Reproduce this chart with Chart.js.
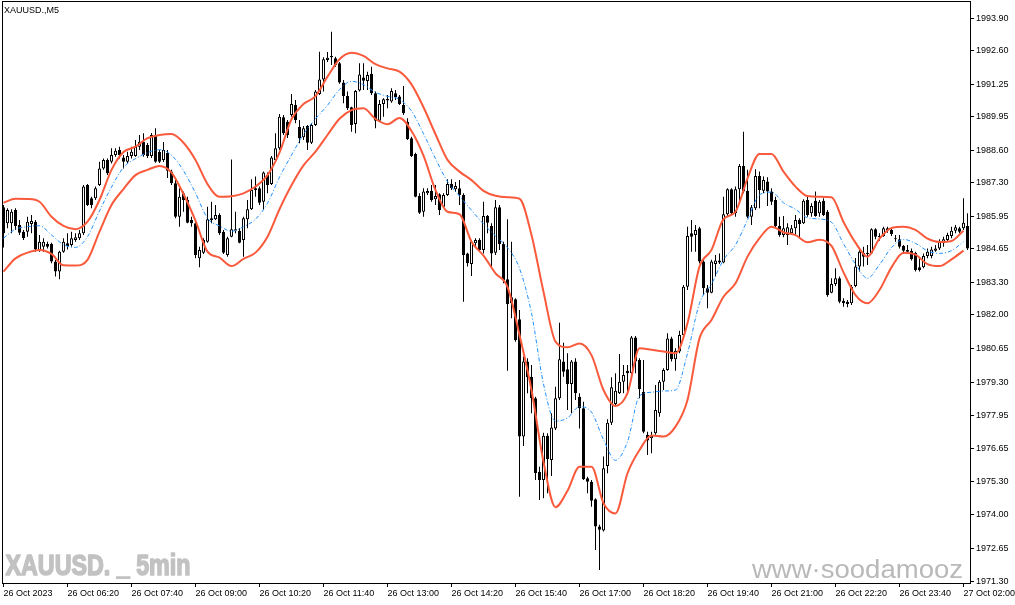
<!DOCTYPE html>
<html><head><meta charset="utf-8">
<script src="https://cdn.jsdelivr.net/npm/chart.js@4.4.0/dist/chart.umd.min.js"></script>
<style>html,body{margin:0;padding:0;background:#fff;overflow:hidden}canvas{display:block}</style>
</head><body>
<canvas id="c" width="1015" height="605"></canvas>
<script>
const timeLabels = ['26 Oct 2023','26 Oct 06:20','26 Oct 07:40','26 Oct 09:00','26 Oct 10:20','26 Oct 11:40','26 Oct 13:00','26 Oct 14:20','26 Oct 15:40','26 Oct 17:00','26 Oct 18:20','26 Oct 19:40','26 Oct 21:00','26 Oct 22:20','26 Oct 23:40','27 Oct 02:00'];
const labelBars = [0,16,32,48,64,80,96,112,128,144,160,176,192,208,224,240];
const priceTicks = [1993.90,1992.60,1991.25,1989.95,1988.60,1987.30,1985.95,1984.65,1983.30,1982.00,1980.65,1979.30,1977.95,1976.65,1975.30,1974.00,1972.65,1971.30];

const openPrices = [
1986.32,1985.68,1985.68,1986.21,1985.61,1985.34,1985.34,1985.65,1985.74,1984.61,
1984.74,1984.85,1984.85,1984.14,1983.74,1984.54,1984.88,1984.81,1985.01,1985.08,
1985.28,1987.21,1986.68,1986.68,1987.21,1987.88,1988.22,1988.15,1988.42,1988.62,
1988.32,1988.15,1988.38,1988.38,1988.75,1988.95,1988.82,1988.38,1989.22,1988.55,
1988.22,1988.50,1987.75,1987.28,1985.94,1986.88,1986.61,1985.81,1985.68,1984.27,
1984.50,1984.94,1985.81,1985.84,1986.01,1985.34,1984.41,1985.14,1985.44,1985.38,
1985.01,1985.84,1986.24,1987.01,1987.08,1986.54,1987.61,1987.25,1988.22,1988.69,
1989.93,1989.75,1990.02,1990.42,1989.55,1989.13,1989.58,1988.91,1989.62,1990.86,
1991.45,1992.23,1992.39,1992.30,1992.10,1991.32,1990.78,1990.33,1989.66,1991.00,
1991.53,1991.39,1991.67,1990.89,1989.79,1990.46,1990.60,1990.56,1990.89,1990.76,
1990.42,1989.75,1989.09,1988.46,1986.77,1986.14,1986.88,1986.98,1986.64,1986.84,
1986.34,1986.81,1987.25,1987.04,1987.08,1986.81,1984.47,1984.04,1984.88,1985.01,
1984.61,1985.97,1985.57,1984.50,1986.32,1984.85,1983.43,1982.47,1982.63,1981.83,
1977.12,1980.13,1979.52,1978.66,1975.71,1975.38,1977.15,1976.18,1977.45,1978.66,
1980.13,1979.82,1979.23,1980.13,1978.72,1978.26,1975.45,1975.31,1974.61,1973.51,
1973.35,1975.94,1977.68,1978.43,1978.86,1979.32,1979.76,1979.66,1981.10,1980.19,
1978.92,1977.19,1977.05,1977.25,1978.06,1979.32,1979.79,1981.06,1980.22,1980.53,
1981.20,1983.13,1985.28,1985.21,1985.48,1984.14,1983.07,1982.89,1984.04,1984.10,
1984.10,1986.04,1987.04,1986.08,1987.04,1987.98,1986.98,1985.94,1986.28,1987.57,
1986.98,1987.35,1986.95,1986.61,1985.57,1985.21,1985.21,1985.28,1985.48,1985.81,
1985.68,1986.61,1986.08,1986.58,1986.08,1986.58,1986.14,1982.89,1983.24,1983.47,
1982.57,1982.53,1982.47,1983.16,1983.94,1984.50,1984.45,1984.47,1985.44,1985.12,
1985.17,1985.48,1985.41,1985.08,1985.04,1984.77,1984.61,1984.58,1984.50,1983.91,
1983.91,1984.37,1984.37,1984.58,1984.67,1984.88,1985.01,1985.17,1985.38,1985.48,
1985.48,1985.57];

const highPrices = [
1986.41,1986.28,1986.24,1986.28,1985.81,1985.41,1985.94,1986.01,1985.81,1985.21,
1985.08,1984.94,1984.90,1984.21,1984.58,1985.08,1985.28,1985.34,1985.28,1985.41,
1987.21,1987.25,1986.74,1987.15,1988.15,1988.28,1988.28,1988.69,1988.69,1988.75,
1988.42,1988.55,1988.75,1989.02,1989.22,1989.29,1988.90,1989.30,1989.49,1988.62,
1988.94,1988.62,1987.82,1987.41,1987.08,1986.95,1986.74,1985.94,1985.81,1984.74,
1985.08,1986.34,1986.54,1986.41,1986.08,1985.41,1985.14,1988.24,1986.14,1985.48,
1985.94,1986.61,1987.44,1987.55,1987.15,1987.75,1987.71,1988.38,1989.29,1990.06,
1990.02,1989.82,1990.86,1990.62,1989.82,1989.58,1989.62,1989.69,1991.02,1992.56,
1992.34,1992.55,1993.36,1992.36,1992.15,1991.43,1990.96,1990.35,1991.02,1992.10,
1992.10,1991.76,1991.96,1990.96,1990.62,1990.69,1990.82,1991.09,1991.02,1990.82,
1991.18,1989.89,1989.15,1988.51,1986.88,1987.08,1987.08,1987.21,1987.21,1986.88,
1986.88,1987.44,1987.44,1987.33,1987.41,1986.88,1984.50,1985.01,1985.08,1985.08,
1986.54,1986.01,1985.68,1986.61,1986.41,1984.94,1985.84,1984.94,1982.67,1982.20,
1980.33,1980.26,1979.99,1978.72,1975.91,1977.28,1977.25,1978.06,1979.12,1981.69,
1980.89,1980.46,1980.19,1980.26,1978.86,1978.52,1975.51,1975.38,1974.65,1973.58,
1976.32,1977.82,1979.50,1979.66,1980.43,1979.99,1979.99,1981.16,1981.16,1980.26,
1980.19,1977.32,1977.32,1979.19,1979.39,1979.86,1981.27,1981.13,1980.66,1981.37,
1983.20,1985.54,1985.81,1985.61,1985.54,1984.21,1983.20,1984.21,1984.41,1984.47,
1986.74,1987.08,1987.08,1987.15,1988.06,1989.35,1987.82,1986.41,1987.84,1987.75,
1987.55,1987.52,1987.08,1986.74,1985.94,1985.97,1985.68,1985.61,1986.01,1985.88,
1986.64,1986.74,1986.48,1986.95,1986.61,1986.68,1986.21,1983.47,1983.87,1983.54,
1982.67,1982.60,1983.20,1984.28,1984.61,1984.74,1984.81,1985.48,1985.48,1985.28,
1985.54,1985.54,1985.48,1985.21,1985.21,1984.81,1984.81,1984.67,1984.54,1984.27,
1984.47,1984.67,1984.74,1984.81,1985.04,1985.14,1985.30,1985.54,1985.61,1985.54,
1986.68,1986.08];

const lowPrices = [
1984.71,1985.48,1985.28,1985.41,1985.21,1985.01,1985.14,1985.28,1984.54,1984.54,
1984.54,1984.67,1984.07,1983.54,1983.43,1984.50,1984.63,1984.74,1984.94,1985.01,
1985.21,1986.37,1986.28,1986.61,1987.17,1987.82,1987.61,1988.08,1988.35,1988.28,
1987.88,1988.08,1988.28,1988.35,1988.62,1988.35,1988.30,1988.30,1988.11,1988.10,
1988.14,1987.49,1987.21,1985.88,1985.54,1986.14,1985.68,1985.54,1984.27,1983.91,
1984.45,1984.90,1985.68,1985.81,1985.21,1984.45,1984.34,1985.12,1985.28,1984.88,
1984.34,1985.48,1986.21,1986.74,1986.41,1986.21,1986.88,1987.21,1988.19,1988.62,
1989.22,1989.10,1989.95,1989.69,1988.89,1989.02,1988.62,1988.86,1989.58,1990.82,
1990.96,1992.15,1992.03,1991.96,1991.27,1990.49,1990.22,1989.35,1989.29,1990.96,
1991.02,1991.02,1990.82,1989.49,1989.75,1989.95,1990.29,1990.51,1990.62,1990.42,
1990.02,1989.02,1988.34,1986.72,1986.05,1985.94,1986.81,1986.54,1986.41,1986.01,
1986.29,1986.77,1987.01,1986.93,1986.41,1982.53,1983.94,1983.56,1984.74,1984.54,
1984.47,1985.28,1983.87,1984.41,1984.61,1983.27,1979.76,1981.87,1980.93,1974.71,
1976.74,1978.86,1978.06,1975.38,1974.58,1974.65,1974.85,1975.54,1977.39,1978.59,
1979.52,1978.19,1978.06,1978.59,1977.45,1975.38,1974.85,1974.31,1972.57,1971.77,
1973.31,1975.65,1977.59,1978.32,1978.83,1978.86,1978.79,1979.59,1979.66,1978.66,
1977.25,1976.38,1976.45,1977.19,1977.92,1978.99,1979.76,1980.13,1979.76,1980.46,
1981.13,1983.00,1984.54,1984.54,1984.07,1982.80,1982.27,1982.87,1983.54,1984.04,
1984.07,1985.94,1986.01,1985.94,1986.48,1986.88,1985.88,1985.61,1986.21,1986.28,
1986.88,1986.37,1986.41,1985.48,1985.14,1985.12,1984.81,1985.21,1985.21,1985.08,
1985.65,1985.94,1985.94,1985.94,1985.94,1985.97,1982.73,1982.87,1983.16,1982.47,
1982.33,1982.31,1982.40,1983.11,1983.74,1983.94,1984.00,1984.45,1985.04,1984.98,
1985.14,1985.30,1985.17,1984.94,1984.67,1984.45,1984.45,1984.18,1983.74,1983.74,
1983.87,1984.27,1984.27,1984.54,1984.61,1984.74,1984.94,1985.08,1985.28,1985.28,
1985.41,1984.61];

const closePrices = [
1985.28,1986.21,1986.14,1985.57,1985.30,1985.08,1985.74,1985.77,1984.63,1984.94,
1984.94,1984.74,1984.14,1983.74,1984.54,1984.94,1984.77,1985.08,1985.12,1985.28,
1987.15,1986.41,1986.41,1987.08,1987.88,1988.22,1987.68,1988.42,1988.59,1988.42,
1988.15,1988.38,1988.55,1988.75,1988.95,1988.42,1988.38,1989.22,1988.15,1988.15,
1988.62,1987.78,1987.28,1985.94,1986.74,1986.61,1985.70,1985.68,1984.41,1984.61,
1985.01,1985.84,1985.88,1986.01,1985.28,1984.50,1985.08,1985.44,1985.38,1984.90,
1985.88,1986.24,1987.01,1987.08,1986.50,1987.71,1987.21,1988.32,1988.69,1989.95,
1989.29,1989.22,1990.46,1989.82,1989.09,1989.49,1988.91,1989.62,1990.96,1991.45,
1992.26,1992.32,1992.34,1992.03,1991.32,1990.78,1990.29,1989.62,1990.98,1991.65,
1991.40,1991.63,1990.89,1989.79,1990.46,1990.65,1990.66,1990.98,1990.73,1990.46,
1990.09,1989.05,1988.38,1986.74,1986.10,1986.95,1986.97,1986.61,1986.77,1986.21,
1986.81,1987.25,1987.08,1987.17,1986.81,1984.41,1984.07,1984.94,1985.01,1984.61,
1985.97,1985.70,1984.47,1986.32,1984.85,1983.40,1982.44,1982.71,1981.00,1977.12,
1980.13,1979.50,1978.66,1975.65,1975.38,1977.15,1976.21,1977.49,1978.66,1980.22,
1979.72,1979.23,1980.13,1978.86,1978.26,1975.41,1975.31,1974.55,1973.51,1973.38,
1975.85,1977.68,1979.10,1978.96,1979.32,1979.59,1979.66,1981.10,1980.13,1979.02,
1977.32,1976.96,1977.15,1978.19,1979.32,1979.79,1981.06,1980.22,1980.56,1981.20,
1983.13,1985.17,1985.14,1985.41,1984.14,1983.07,1982.89,1984.14,1984.18,1984.18,
1986.04,1987.04,1986.08,1987.04,1987.98,1986.95,1985.94,1986.32,1987.57,1987.01,
1987.41,1986.95,1986.54,1985.57,1985.21,1985.48,1985.52,1985.48,1985.81,1985.65,
1986.58,1986.01,1986.37,1985.97,1986.54,1986.01,1982.80,1983.24,1983.47,1982.53,
1982.47,1982.44,1983.13,1983.94,1984.54,1984.34,1984.50,1985.44,1985.14,1985.17,
1985.48,1985.41,1985.25,1985.04,1984.74,1984.58,1984.54,1984.23,1983.80,1983.80,
1984.37,1984.54,1984.63,1984.67,1984.94,1985.04,1985.21,1985.38,1985.52,1985.34,
1985.70,1984.67];

// band readings every 3rd bar (bar 0, 3, 6, ... 240)
const bandStep = 3;
const upperBand = [
1986.50,1986.66,1986.65,1986.54,1985.94,1985.57,1985.44,1985.74,1986.61,1987.82,
1988.54,1988.75,1989.09,1989.22,1989.26,1988.91,1988.22,1987.25,1986.74,1986.76,
1986.88,1987.15,1987.61,1988.51,1989.85,1990.46,1990.78,1991.56,1992.26,1992.52,
1992.39,1992.06,1991.89,1991.76,1991.25,1990.33,1989.25,1988.22,1987.75,1987.41,
1986.98,1986.78,1986.72,1986.66,1985.21,1982.93,1980.93,1980.70,1980.86,1980.39,
1978.99,1978.35,1978.86,1980.66,1980.60,1980.53,1980.46,1981.67,1983.94,1984.61,
1985.84,1986.14,1987.48,1988.46,1988.46,1987.75,1987.15,1986.77,1986.74,1986.72,
1985.73,1984.90,1984.34,1985.06,1985.49,1985.54,1985.41,1985.06,1984.93,1984.97,
1985.38];
const middleBand = [
1985.08,1985.44,1985.54,1985.58,1985.21,1984.82,1984.71,1985.14,1986.17,1987.13,
1987.92,1988.27,1988.51,1988.63,1988.41,1987.79,1986.89,1985.88,1985.57,1985.36,
1985.54,1985.84,1986.48,1987.53,1988.41,1989.25,1989.87,1990.41,1991.04,1991.37,
1991.24,1990.93,1990.77,1990.65,1990.18,1989.27,1988.27,1987.35,1986.77,1986.20,
1985.65,1985.17,1984.70,1983.87,1982.07,1979.23,1977.74,1977.87,1978.32,1978.10,
1977.00,1976.17,1976.92,1978.75,1978.90,1978.95,1978.99,1980.46,1982.47,1983.24,
1984.21,1984.81,1985.81,1986.82,1986.93,1986.50,1986.24,1985.90,1985.85,1985.72,
1984.86,1984.04,1983.47,1984.02,1984.70,1985.03,1984.87,1984.57,1984.47,1984.58,
1984.94];
const lowerBand = [
1983.74,1984.27,1984.50,1984.61,1984.45,1983.99,1983.98,1984.21,1985.34,1986.41,
1987.05,1987.61,1987.82,1987.98,1987.71,1986.85,1985.78,1984.54,1984.30,1983.96,
1984.25,1984.50,1985.14,1986.24,1987.20,1988.00,1988.55,1989.22,1989.87,1990.22,
1990.29,1989.86,1989.65,1989.90,1989.38,1988.39,1987.01,1986.14,1986.04,1984.94,
1984.38,1983.67,1983.13,1981.20,1978.99,1976.11,1974.29,1974.95,1975.91,1975.91,
1974.45,1974.04,1975.65,1976.58,1977.16,1977.12,1977.52,1978.59,1981.06,1981.80,
1982.73,1983.27,1984.34,1985.08,1985.54,1985.32,1985.20,1984.92,1985.02,1984.77,
1983.71,1982.80,1982.47,1983.00,1983.91,1984.50,1984.42,1984.04,1983.96,1984.23,
1984.58];

const barIdx = openPrices.map((_, i) => i);
const wickData = barIdx.map(i => ({x: i, y: [lowPrices[i], highPrices[i]]}));
const bodyData = barIdx.map(i => ({x: i, y: [openPrices[i], closePrices[i]]}));
const bodyColors = barIdx.map(i => closePrices[i] >= openPrices[i] ? '#ffffff' : '#000000');
const bandPts = arr => arr.map((v, k) => ({x: k * bandStep, y: v}));

const FONT = '"Liberation Sans", Arial, sans-serif';

const decor = {
  id: 'decor',
  beforeDraw(chart) {
    const ctx = chart.ctx;
    ctx.save(); ctx.fillStyle = '#ffffff'; ctx.fillRect(0, 0, chart.width, chart.height); ctx.restore();
  },
  beforeDatasetsDraw(chart) {
    const ctx = chart.ctx, a = chart.chartArea;
    ctx.save();
    ctx.beginPath(); ctx.rect(a.left, a.top, a.right - a.left, a.bottom - a.top); ctx.clip();
    ctx.textBaseline = 'alphabetic'; ctx.textAlign = 'left';
    let t = 'XAUUSD. _ 5min';
    ctx.fillStyle = '#c2c2c2';
    ctx.strokeStyle = '#c2c2c2';
    ctx.lineWidth = 1.6;
    ctx.lineJoin = 'round';
    ctx.font = 'bold 29px ' + FONT;
    let w = ctx.measureText(t).width;
    ctx.save(); ctx.translate(5.5, 575); ctx.scale(185 / w, 1); ctx.fillText(t, 0, 0); ctx.strokeText(t, 0, 0); ctx.restore();
    t = 'www\u00B7soodamooz';
    ctx.fillStyle = '#b9b9b9';
    ctx.font = '26px ' + FONT;
    w = ctx.measureText(t).width;
    ctx.save(); ctx.translate(752, 578); ctx.scale(211 / w, 1); ctx.fillText(t, 0, 0); ctx.restore();
    ctx.fillStyle = '#000000';
    ctx.font = '9px ' + FONT;
    ctx.fillText('XAUUSD.,M5', 4, 13);
    ctx.restore();
  },
  afterDraw(chart) {
    const ctx = chart.ctx, a = chart.chartArea;
    ctx.save();
    ctx.strokeStyle = '#000000'; ctx.lineWidth = 1;
    ctx.strokeRect(a.left + 0.5, a.top - 0.5, a.right - a.left, a.bottom - a.top + 1);
    ctx.restore();
  }
};

new Chart(document.getElementById('c'), {
  type: 'bar',
  data: {
    datasets: [
      { type: 'line', label: 'Upper', data: bandPts(upperBand), borderColor: '#fa5a3c', borderWidth: 2, pointRadius: 0, cubicInterpolationMode: 'monotone', order: 0 },
      { type: 'line', label: 'Middle', data: bandPts(middleBand), borderColor: '#1e90ff', borderWidth: 1, borderDash: [4, 2, 1, 2], pointRadius: 0, cubicInterpolationMode: 'monotone', order: 0 },
      { type: 'line', label: 'Lower', data: bandPts(lowerBand), borderColor: '#fa5a3c', borderWidth: 2, pointRadius: 0, cubicInterpolationMode: 'monotone', order: 0 },
      { type: 'bar', label: 'Body', data: bodyData, backgroundColor: bodyColors, borderColor: '#000000', borderWidth: 1, borderSkipped: false, barThickness: 3, grouped: false, minBarLength: 1, inflateAmount: 0, order: 1 },
      { type: 'bar', label: 'Wick', data: wickData, backgroundColor: '#000000', borderWidth: 0, borderSkipped: false, barThickness: 1, grouped: false, minBarLength: 1, inflateAmount: 0, order: 2 }
    ]
  },
  options: {
    responsive: false,
    animation: false,
    devicePixelRatio: 1,
    layout: { padding: { left: 2, top: 2, right: 0, bottom: 0 } },
    plugins: { legend: { display: false }, tooltip: { enabled: false } },
    scales: {
      x: {
        type: 'linear', position: 'bottom', min: -0.375, max: 241.625, offset: false,
        afterBuildTicks: s => { s.ticks = labelBars.map(v => ({ value: v })); },
        afterFit: s => { s.height = 22; s.paddingLeft = 0; s.paddingRight = 0; },
        ticks: { autoSkip: false, maxRotation: 0, minRotation: 0, align: 'start', padding: 1, color: '#000000', font: { family: FONT, size: 9 }, callback: (v, i) => timeLabels[i] },
        grid: { drawOnChartArea: false, drawTicks: true, tickLength: 4, color: '#000000', offset: false },
        border: { display: true, color: '#000000' }
      },
      y: {
        type: 'linear', position: 'right', min: 1971.248, max: 1994.554,
        afterBuildTicks: s => { s.ticks = priceTicks.map(v => ({ value: v })); },
        afterFit: s => { s.width = 45; s.paddingTop = 0; s.paddingBottom = 0; },
        ticks: { autoSkip: false, padding: 2, color: '#000000', font: { family: FONT, size: 9 }, callback: v => v.toFixed(2) },
        grid: { drawOnChartArea: false, drawTicks: true, tickLength: 4, color: '#000000' },
        border: { display: true, color: '#000000' }
      }
    }
  },
  plugins: [decor]
});
</script>
</body></html>
